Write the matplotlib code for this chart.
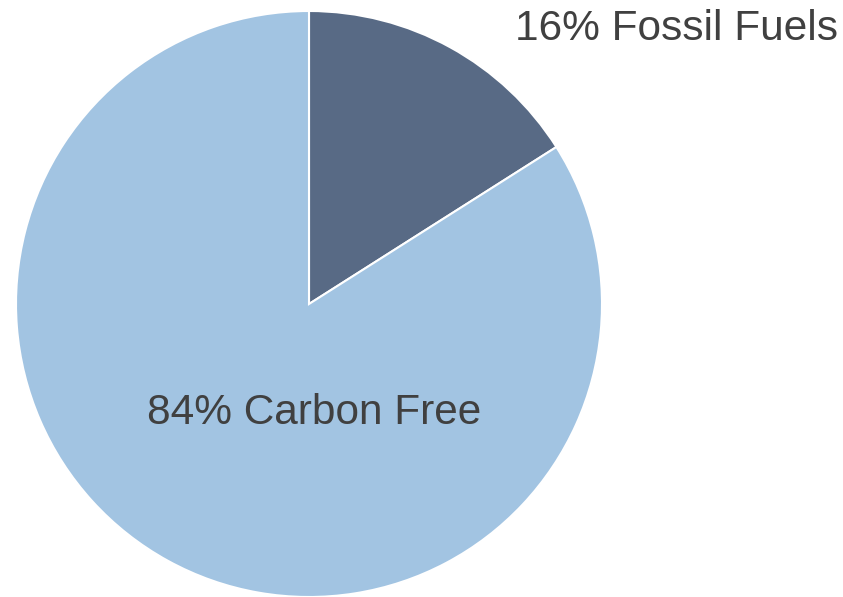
import matplotlib
matplotlib.use("Agg")
import matplotlib.pyplot as plt

categories = ["Fossil Fuels", "Carbon Free"]
values = [16, 84]
colors = ["#586A85", "#A2C4E2"]

W, H = 843, 597
fig = plt.figure(figsize=(W / 100, H / 100), dpi=100)
cx, cy, r = 309, 304, 293
ax = fig.add_axes([(cx - r) / W, (H - cy - r) / H, 2 * r / W, 2 * r / H])
wedges, _ = ax.pie(values, colors=colors, startangle=90, counterclock=False,
                   radius=1, wedgeprops=dict(edgecolor="white", linewidth=1.5))
ax.set_xlim(-1, 1)
ax.set_ylim(-1, 1)
ax.set_aspect("equal")
ax.axis("off")

font = dict(family=["Liberation Sans", "DejaVu Sans"], fontsize=30.5, color="#404040")
ax.text((515 - cx) / r, (cy - 40) / r, f"{values[0]}% {categories[0]}",
        ha="left", va="baseline", clip_on=False, **font)
ax.text((314 - cx) / r, (cy - 424) / r, f"{values[1]}% {categories[1]}",
        ha="center", va="baseline", clip_on=False, **font)

fig.savefig("out.png", dpi=100)
